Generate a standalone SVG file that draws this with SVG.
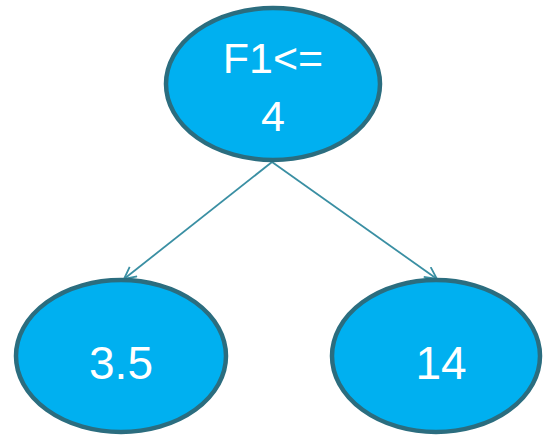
<svg xmlns="http://www.w3.org/2000/svg" width="543" height="436" viewBox="0 0 543 436">
  <style>
    .node { fill: #00b0f0; stroke: #2b6d7f; stroke-width: 4.5; }
    .label { fill: #ffffff; font-family: "Liberation Sans", Arial, sans-serif; text-anchor: middle; }
    .edge { stroke: #3a8fa3; stroke-width: 1.8; fill: none; }
  </style>
  <defs>
    <marker id="arrow" viewBox="0 0 14 14" refX="13" refY="7" markerWidth="14" markerHeight="14" markerUnits="userSpaceOnUse" orient="auto">
      <path d="M1,1 L13,7 L1,13" fill="none" stroke="#3a8fa3" stroke-width="1.8"/>
    </marker>
  </defs>

  <g id="edges">
    <line class="edge" x1="272" y1="162" x2="124" y2="279" marker-end="url(#arrow)"/>
    <line class="edge" x1="272" y1="162" x2="437" y2="279" marker-end="url(#arrow)"/>
  </g>

  <g id="root">
    <ellipse class="node" cx="273" cy="84" rx="107" ry="76"/>
    <text class="label" x="273" y="73" font-size="43">F1&lt;=</text>
    <text class="label" x="273" y="131" font-size="43">4</text>
  </g>

  <g id="left">
    <ellipse class="node" cx="121" cy="356" rx="105" ry="76"/>
    <text class="label" x="121" y="379" font-size="46">3.5</text>
  </g>

  <g id="right">
    <ellipse class="node" cx="436" cy="356" rx="104" ry="76"/>
    <text class="label" x="441" y="379" font-size="46">14</text>
  </g>
</svg>
